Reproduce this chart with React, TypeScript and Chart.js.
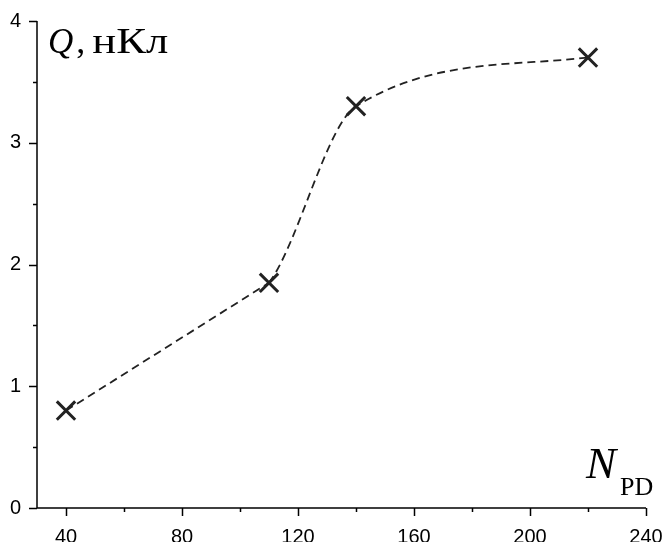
import React, { useEffect, useRef } from "react";
import { Chart, registerables } from "chart.js";

Chart.register(...registerables);

const xValues = [40, 110, 140, 220];
const qValues = [0.8, 1.85, 3.3, 3.7];
const xMajorTicks = [40, 80, 120, 160, 200, 240];
const xMinorTicks = [60, 100, 140, 180, 220];
const yMajorTicks = [0, 1, 2, 3, 4];
const yMinorTicks = [0.5, 1.5, 2.5, 3.5];

const LINE_COLOR = "#222";

const axesPlugin = {
  id: "customAxes",
  afterDraw(chart: any) {
    const { ctx, chartArea, scales } = chart;
    const xs = scales.x;
    const ys = scales.y;
    ctx.save();
    ctx.strokeStyle = "#000";
    ctx.lineWidth = 1.5;
    ctx.beginPath();
    ctx.moveTo(chartArea.left, chartArea.top);
    ctx.lineTo(chartArea.left, chartArea.bottom);
    ctx.lineTo(chartArea.right, chartArea.bottom);
    ctx.stroke();
    ctx.beginPath();
    for (const v of xMajorTicks) {
      const p = Math.round(xs.getPixelForValue(v)) + 0.5;
      ctx.moveTo(p, chartArea.bottom);
      ctx.lineTo(p, chartArea.bottom + 8);
    }
    for (const v of xMinorTicks) {
      const p = Math.round(xs.getPixelForValue(v)) + 0.5;
      ctx.moveTo(p, chartArea.bottom);
      ctx.lineTo(p, chartArea.bottom + 4);
    }
    for (const v of yMajorTicks) {
      const p = Math.round(ys.getPixelForValue(v)) + 0.5;
      ctx.moveTo(chartArea.left, p);
      ctx.lineTo(chartArea.left - 8, p);
    }
    for (const v of yMinorTicks) {
      const p = Math.round(ys.getPixelForValue(v)) + 0.5;
      ctx.moveTo(chartArea.left, p);
      ctx.lineTo(chartArea.left - 4, p);
    }
    ctx.stroke();

    // axis titles
    ctx.fillStyle = "#000";
    ctx.textBaseline = "alphabetic";
    ctx.textAlign = "left";
    const qx = chartArea.left + 11;
    const qy = chartArea.top + 32;
    ctx.font = "italic 35px 'Liberation Serif'";
    ctx.fillText("Q", qx, qy);
    const qw = ctx.measureText("Q").width;
    ctx.font = "36px 'Liberation Serif'";
    ctx.fillText(",", qx + qw + 3, qy);
    const unitText = "нКл";
    const uw = ctx.measureText(unitText).width;
    const targetW = 76;
    ctx.save();
    ctx.translate(qx + qw + 19, qy);
    ctx.scale(targetW / uw, 1);
    ctx.fillText(unitText, 0, 0);
    ctx.restore();

    ctx.font = "italic 45px 'Liberation Serif'";
    const nx = chartArea.right - 60;
    const ny = chartArea.bottom - 30;
    ctx.fillText("N", nx, ny);
    ctx.font = "26px 'Liberation Serif'";
    ctx.fillText("PD", chartArea.right - 26, ny + 17);
    ctx.restore();
  },
};

export default function App() {
  const ref = useRef<HTMLCanvasElement>(null);
  useEffect(() => {
    document.body.style.margin = "0";
    const points = xValues.map((x, i) => ({ x, y: qValues[i] }));
    const chart = new Chart(ref.current!, {
      type: "line",
      data: {
        datasets: [
          {
            // first segment: nearly straight
            data: points.slice(0, 2),
            borderColor: LINE_COLOR,
            borderWidth: 1.8,
            borderDash: [8, 5],
            tension: 0,
            pointRadius: 0,
          },
          {
            data: points,
            borderColor: LINE_COLOR,
            borderWidth: 1.8,
            borderDash: [8, 5],
            cubicInterpolationMode: "monotone",
            segment: {
              borderColor: (c: any) => (c.p0DataIndex === 0 ? "rgba(0,0,0,0)" : LINE_COLOR),
            },
            pointStyle: "crossRot",
            pointRadius: 13,
            pointBorderWidth: 3,
            pointBorderColor: LINE_COLOR,
            pointBackgroundColor: LINE_COLOR,
          },
        ],
      },
      options: {
        animation: false,
        responsive: false,
        layout: { padding: { left: 0, right: 17, top: 21, bottom: 0 } },
        plugins: { legend: { display: false }, tooltip: { enabled: false } },
        scales: {
          x: {
            type: "linear",
            min: 30,
            max: 240,
            afterFit: (s: any) => {
              s.height = 34;
              s.paddingLeft = 0;
              s.paddingRight = 0;
            },
            afterBuildTicks: (s: any) => {
              s.ticks = xMajorTicks.map((v) => ({ value: v }));
            },
            grid: { display: false, drawTicks: false, tickLength: 0 },
            border: { display: false },
            ticks: {
              padding: 17,
              color: "#000",
              maxRotation: 0,
              autoSkip: false,
              font: { family: "'Liberation Sans'", size: 20 },
            },
          },
          y: {
            type: "linear",
            min: 0,
            max: 4,
            afterFit: (s: any) => {
              s.width = 37;
              s.paddingTop = 0;
              s.paddingBottom = 0;
            },
            afterBuildTicks: (s: any) => {
              s.ticks = yMajorTicks.map((v) => ({ value: v }));
            },
            grid: { display: false, drawTicks: false, tickLength: 0 },
            border: { display: false },
            ticks: {
              padding: 16,
              color: "#000",
              font: { family: "'Liberation Sans'", size: 20 },
            },
          },
        },
      },
      plugins: [axesPlugin],
    } as any);
    return () => chart.destroy();
  }, []);
  return <canvas ref={ref} width={663} height={542} style={{ display: "block" }} />;
}
